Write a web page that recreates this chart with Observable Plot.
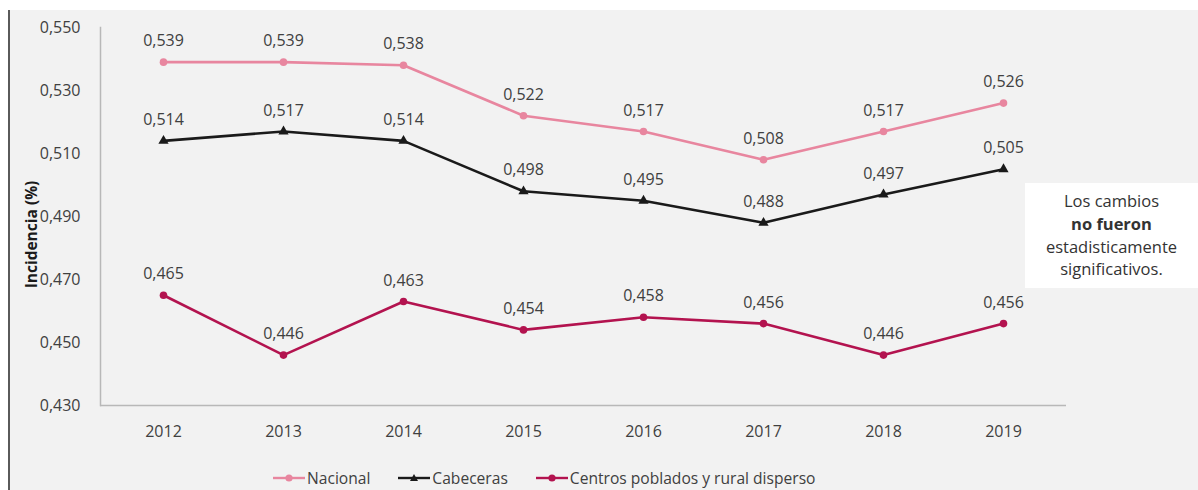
<!DOCTYPE html>
<html>
<head>
<meta charset="utf-8">
<script src="https://cdn.jsdelivr.net/npm/d3@7"></script>
<script src="https://cdn.jsdelivr.net/npm/@observablehq/plot@0.6"></script>
<style>
  html, body { margin: 0; padding: 0; background: #ffffff; }
  body { width: 1198px; height: 490px; overflow: hidden; font-family: "Open Sans", sans-serif; }
  #wrap { position: absolute; left: 8px; top: 10px; width: 1190px; height: 480px; background: #f2f2f2; border-left: 2px solid #5a5a5a; }
  #chart { position: absolute; left: 0; top: 0; }
  #note { position: absolute; left: 1015px; top: 173px; width: 173px; height: 105px; background: #ffffff;
          display: flex; flex-direction: column; justify-content: center; align-items: center;
          font-size: 16.5px; line-height: 22.7px; color: #333; text-align: center; }
  #legend { position: absolute; left: 262px; top: 457px; display: flex; align-items: center; font-size: 15.6px; color: #404040; }
  #legend .item { display: flex; align-items: center; margin-right: 27px; }
  #legend svg { margin-right: 1px; }
</style>
</head>
<body>
<div id="wrap">
  <div id="chart"></div>
  <div id="note"><div>Los cambios</div><div><b>no fueron</b></div><div>estadisticamente</div><div>significativos.</div></div>
  <div id="legend"></div>
</div>
<script>
const years = ["2012","2013","2014","2015","2016","2017","2018","2019"];
const seriesNames = ["Nacional", "Cabeceras", "Centros poblados y rural disperso"];
const nacional = [0.539, 0.539, 0.538, 0.522, 0.517, 0.508, 0.517, 0.526];
const cabeceras = [0.514, 0.517, 0.514, 0.498, 0.495, 0.488, 0.497, 0.505];
const centros = [0.465, 0.446, 0.463, 0.454, 0.458, 0.456, 0.446, 0.456];
const yTicks = [0.43, 0.45, 0.47, 0.49, 0.51, 0.53, 0.55];
const colors = ["#e8869f", "#1a1a1a", "#b3134f"];
const symbols = ["circle", "triangle", "circle"];

const values = [nacional, cabeceras, centros];
const data = [];
seriesNames.forEach((s, i) => years.forEach((y, j) => data.push({series: s, year: y, value: values[i][j]})));

const fmt = v => v.toFixed(3).replace(".", ",");

const chart = Plot.plot({
  width: 1188,
  height: 440,
  marginTop: 17,
  marginBottom: 45,
  marginLeft: 90,
  marginRight: 132,
  style: { background: "transparent", fontFamily: "Open Sans, sans-serif", fontSize: "16px", color: "#404040" },
  x: { type: "point", domain: years, padding: 0.5 },
  y: { domain: [0.43, 0.55] },
  color: { domain: seriesNames, range: colors },
  symbol: { domain: seriesNames, range: symbols },
  marks: [
    Plot.ruleY([0.43], { stroke: "#b8b8b8", strokeWidth: 1.5 }),
    Plot.frame({ anchor: "left", stroke: "#b8b8b8", strokeWidth: 1.5 }),
    Plot.axisX({ tickSize: 0, tickPadding: 20, label: null, fill: "#404040", fontSize: 16 }),
    Plot.axisY({ ticks: yTicks, tickSize: 0, tickPadding: 20, tickFormat: fmt, label: null, fill: "#404040", fontSize: 16 }),
    Plot.text(["Incidencia (%)"], { frameAnchor: "left", textAnchor: "middle", rotate: -90, dx: -68, dy: 18, fontWeight: "bold", fill: "#1a1a1a", fontSize: 15.5 }),
    Plot.line(data, { x: "year", y: "value", z: "series", stroke: "series", strokeWidth: 2.6 }),
    Plot.dot(data, { x: "year", y: "value", fill: "series", symbol: "series", r: 3.8, stroke: null }),
    Plot.text(data, { x: "year", y: "value", text: d => fmt(d.value), dy: -21, fill: "#404040", fontSize: 16 })
  ]
});
document.getElementById("chart").appendChild(chart);

const legend = document.getElementById("legend");
seriesNames.forEach((s, i) => {
  const item = document.createElement("div");
  item.className = "item";
  const mark = symbols[i] === "circle"
    ? `<circle cx="17" cy="7" r="3.6" fill="${colors[i]}"/>`
    : `<path d="M17,3 L21,10 L13,10 Z" fill="${colors[i]}"/>`;
  item.innerHTML = `<svg width="34" height="14"><line x1="1" x2="33" y1="7" y2="7" stroke="${colors[i]}" stroke-width="2.4"/>${mark}</svg><span>${s}</span>`;
  legend.appendChild(item);
});
</script>
</body>
</html>
